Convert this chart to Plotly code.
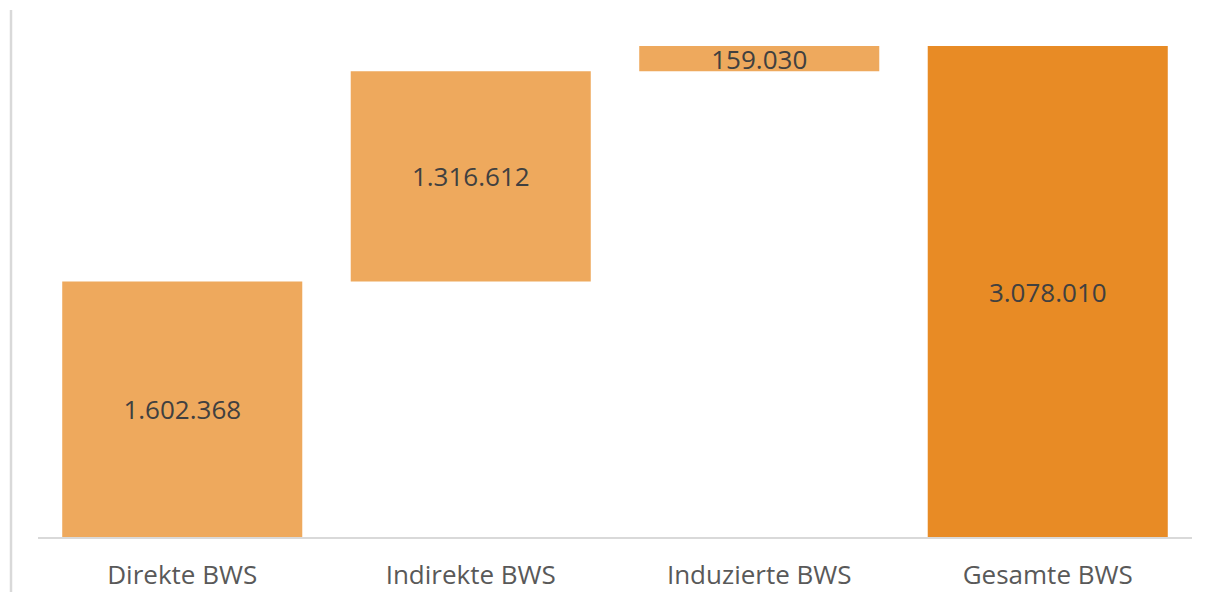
import plotly.graph_objects as go

categories = ['Direkte BWS', 'Indirekte BWS', 'Induzierte BWS', 'Gesamte BWS']
values = [1602368, 1316612, 159030, 3078010]
measures = ['relative', 'relative', 'relative', 'total']

LIGHT = '#EEA95D'
DARK = '#E88B25'

labels = [f"{v:,}".replace(',', '.') for v in values]

fig = go.Figure(go.Waterfall(
    x=categories, y=values, measure=measures,
    text=labels, textposition='inside', insidetextanchor='middle',
    constraintext='none', textangle=0,
    textfont=dict(family='Open Sans', size=26, color='#404040'),
    increasing=dict(marker=dict(color=LIGHT, line=dict(width=0))),
    decreasing=dict(marker=dict(color=LIGHT, line=dict(width=0))),
    totals=dict(marker=dict(color=DARK, line=dict(width=0))),
    connector=dict(visible=False),
    hoverinfo='skip',
))

# page body has an 8px margin, so the figure is sized to fit inside it
fig.update_layout(
    width=1197, height=584,
    margin=dict(l=30, r=13, t=2, b=55),
    paper_bgcolor='white', plot_bgcolor='white',
    waterfallgap=0.168,
    showlegend=False,
    font=dict(family='Open Sans', color='#595959'),
    xaxis=dict(showline=True, linecolor='#D9D9D9', linewidth=2,
               showgrid=False, ticks='', tickfont=dict(size=26, color='#595959'),
               ticklabelstandoff=14, automargin=False),
    yaxis=dict(visible=False, range=[0, 3303700]),
    # thin frame line on the left edge
    shapes=[dict(type='line', xref='paper', yref='paper',
                 x0=-27/1154, x1=-27/1154, y0=-55/527, y1=1,
                 line=dict(color='#D9D9D9', width=2.5))],
)

fig.write_html("out.html")
